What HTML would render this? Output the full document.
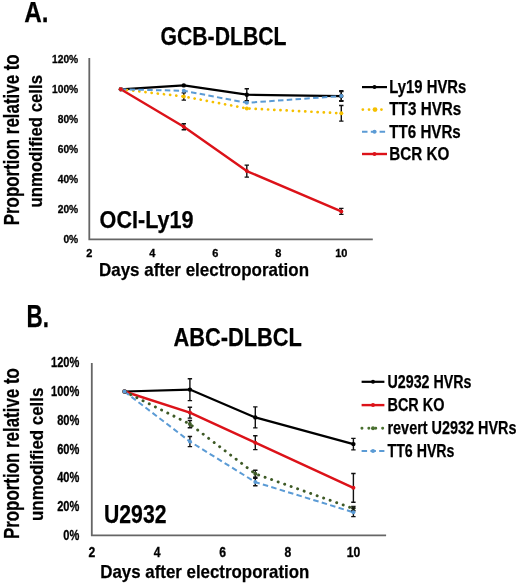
<!DOCTYPE html>
<html><head><meta charset="utf-8"><style>
html,body{margin:0;padding:0;background:#fff;}
svg{display:block;will-change:transform;}
text{font-family:"Liberation Sans",sans-serif;font-weight:bold;fill:#000;stroke:#000;stroke-width:0.25px;}
.tk{stroke:#000;stroke-width:0.3px;}
</style></head><body>
<svg width="520" height="585" viewBox="0 0 520 585">
<text x="24.2" y="22.1" font-size="30" textLength="24.3" lengthAdjust="spacingAndGlyphs">A.</text>
<text x="223.5" y="44.7" font-size="25" text-anchor="middle" textLength="126" lengthAdjust="spacingAndGlyphs">GCB-DLBCL</text>
<path d="M89.3 58 V239.3 H372.8" fill="none" stroke="#666" stroke-width="1.8"/>
<text x="78.2" y="242.70000000000002" font-size="11" text-anchor="end" textLength="14.79" lengthAdjust="spacingAndGlyphs" class="tk">0%</text>
<text x="78.2" y="212.70000000000002" font-size="11" text-anchor="end" textLength="20.47" lengthAdjust="spacingAndGlyphs" class="tk">20%</text>
<text x="78.2" y="182.70000000000002" font-size="11" text-anchor="end" textLength="20.47" lengthAdjust="spacingAndGlyphs" class="tk">40%</text>
<text x="78.2" y="152.70000000000002" font-size="11" text-anchor="end" textLength="20.47" lengthAdjust="spacingAndGlyphs" class="tk">60%</text>
<text x="78.2" y="122.70000000000002" font-size="11" text-anchor="end" textLength="20.47" lengthAdjust="spacingAndGlyphs" class="tk">80%</text>
<text x="78.2" y="92.70000000000002" font-size="11" text-anchor="end" textLength="26.16" lengthAdjust="spacingAndGlyphs" class="tk">100%</text>
<text x="78.2" y="62.70000000000001" font-size="11" text-anchor="end" textLength="26.16" lengthAdjust="spacingAndGlyphs" class="tk">120%</text>
<text x="89.3" y="257.3" font-size="11" text-anchor="middle" textLength="6.12" lengthAdjust="spacingAndGlyphs" class="tk">2</text>
<text x="152.3" y="257.3" font-size="11" text-anchor="middle" textLength="6.12" lengthAdjust="spacingAndGlyphs" class="tk">4</text>
<text x="215.3" y="257.3" font-size="11" text-anchor="middle" textLength="6.12" lengthAdjust="spacingAndGlyphs" class="tk">6</text>
<text x="278.3" y="257.3" font-size="11" text-anchor="middle" textLength="6.12" lengthAdjust="spacingAndGlyphs" class="tk">8</text>
<text x="341.3" y="257.3" font-size="11" text-anchor="middle" textLength="12.23" lengthAdjust="spacingAndGlyphs" class="tk">10</text>
<path d="M120.8 89.3 L183.8 85.4 L246.8 94.7 L341.3 96.1" fill="none" stroke="#000" stroke-width="2.2"  stroke-linejoin="round"/>
<path d="M120.8 89.3 L183.8 96.5 L246.8 108.4 L341.3 113.3" fill="none" stroke="#f5c000" stroke-width="2.7" stroke-dasharray="0.1 6.1" stroke-linecap="round" stroke-linejoin="round"/>
<path d="M120.8 89.3 L183.8 90.8 L246.8 102.8 L341.3 96.1" fill="none" stroke="#5b9bd5" stroke-width="2.0" stroke-dasharray="5.5 3.3" stroke-linejoin="round"/>
<path d="M120.8 89.3 L183.8 126.8 L246.8 171.1 L341.3 211.4" fill="none" stroke="#dc1219" stroke-width="2.4"  stroke-linejoin="round"/>
<path d="M246.8 88.7 V100.7 M244.6 88.7 H249.0 M244.6 100.7 H249.0" stroke="#111" stroke-width="1.4" fill="none"/>
<path d="M341.3 90.8 V101.3 M339.1 90.8 H343.5 M339.1 101.3 H343.5" stroke="#111" stroke-width="1.4" fill="none"/>
<circle cx="120.8" cy="89.3" r="2.2" fill="#000"/>
<circle cx="183.8" cy="85.4" r="2.2" fill="#000"/>
<circle cx="246.8" cy="94.7" r="2.2" fill="#000"/>
<circle cx="341.3" cy="96.1" r="2.2" fill="#000"/>
<path d="M183.8 92.9 V100.1 M181.6 92.9 H186.0 M181.6 100.1 H186.0" stroke="#111" stroke-width="1.4" fill="none"/>
<path d="M341.3 105.5 V121.1 M339.1 105.5 H343.5 M339.1 121.1 H343.5" stroke="#111" stroke-width="1.4" fill="none"/>
<circle cx="120.8" cy="89.3" r="2.0" fill="#f5c000"/>
<circle cx="183.8" cy="96.5" r="2.0" fill="#f5c000"/>
<circle cx="246.8" cy="108.4" r="2.0" fill="#f5c000"/>
<circle cx="341.3" cy="113.3" r="2.0" fill="#f5c000"/>
<path d="M341.3 91.6 V100.6 M339.1 91.6 H343.5 M339.1 100.6 H343.5" stroke="#111" stroke-width="1.4" fill="none"/>
<circle cx="120.8" cy="89.3" r="2.0" fill="#5b9bd5"/>
<circle cx="183.8" cy="90.8" r="2.0" fill="#5b9bd5"/>
<circle cx="246.8" cy="102.8" r="2.0" fill="#5b9bd5"/>
<circle cx="341.3" cy="96.1" r="2.0" fill="#5b9bd5"/>
<path d="M183.8 123.8 V129.8 M181.6 123.8 H186.0 M181.6 129.8 H186.0" stroke="#111" stroke-width="1.4" fill="none"/>
<path d="M246.8 165.1 V177.1 M244.6 165.1 H249.0 M244.6 177.1 H249.0" stroke="#111" stroke-width="1.4" fill="none"/>
<path d="M341.3 208.4 V214.4 M339.1 208.4 H343.5 M339.1 214.4 H343.5" stroke="#111" stroke-width="1.4" fill="none"/>
<circle cx="120.8" cy="89.3" r="2.0" fill="#dc1219"/>
<circle cx="183.8" cy="126.8" r="2.0" fill="#dc1219"/>
<circle cx="246.8" cy="171.1" r="2.0" fill="#dc1219"/>
<circle cx="341.3" cy="211.4" r="2.0" fill="#dc1219"/>
<line x1="362" y1="87.1" x2="387" y2="87.1" stroke="#000" stroke-width="2.2" />
<circle cx="374.5" cy="87.1" r="2.0" fill="#000"/>
<text x="389.3" y="92.89999999999999" font-size="18" textLength="77" lengthAdjust="spacingAndGlyphs">Ly19 HVRs</text>
<line x1="362.8" y1="109.6" x2="382" y2="109.6" stroke="#f5c000" stroke-width="2.7" stroke-dasharray="0.1 6.1" stroke-linecap="round"/>
<circle cx="375.0" cy="109.6" r="2.4" fill="#f5c000"/>
<text x="389.3" y="115.39999999999999" font-size="18" textLength="72" lengthAdjust="spacingAndGlyphs">TT3 HVRs</text>
<line x1="362" y1="131.7" x2="387" y2="131.7" stroke="#5b9bd5" stroke-width="2.0" stroke-dasharray="5.5 3.3"/>
<circle cx="374.5" cy="131.7" r="2.0" fill="#5b9bd5"/>
<text x="389.3" y="137.5" font-size="18" textLength="71.5" lengthAdjust="spacingAndGlyphs">TT6 HVRs</text>
<line x1="362" y1="154" x2="387" y2="154" stroke="#dc1219" stroke-width="2.4" />
<circle cx="374.5" cy="154" r="2.0" fill="#dc1219"/>
<text x="389.3" y="159.8" font-size="18" textLength="60" lengthAdjust="spacingAndGlyphs">BCR KO</text>
<text x="99.6" y="227.7" font-size="24" textLength="94" lengthAdjust="spacingAndGlyphs">OCI-Ly19</text>
<text x="99.0" y="275.6" font-size="19" textLength="210" lengthAdjust="spacingAndGlyphs">Days after electroporation</text>
<g transform="translate(18.9 139.8) rotate(-90)"><text x="0" y="0" font-size="21.5" text-anchor="middle" textLength="171" lengthAdjust="spacingAndGlyphs">Proportion relative to</text></g>
<g transform="translate(42.2 141.2) rotate(-90)"><text x="0" y="0" font-size="19" text-anchor="middle" textLength="132.4" lengthAdjust="spacingAndGlyphs">unmodified cells</text></g>
<text x="26.6" y="326.9" font-size="30.5" textLength="22.5" lengthAdjust="spacingAndGlyphs">B.</text>
<text x="237.7" y="346.2" font-size="25" text-anchor="middle" textLength="128.5" lengthAdjust="spacingAndGlyphs">ABC-DLBCL</text>
<path d="M91.8 363 V535.3 H386.1" fill="none" stroke="#666" stroke-width="1.8"/>
<text x="79.3" y="539.9" font-size="14" text-anchor="end" textLength="15.99" lengthAdjust="spacingAndGlyphs" class="tk">0%</text>
<text x="79.3" y="511.14" font-size="14" text-anchor="end" textLength="22.14" lengthAdjust="spacingAndGlyphs" class="tk">20%</text>
<text x="79.3" y="482.38" font-size="14" text-anchor="end" textLength="22.14" lengthAdjust="spacingAndGlyphs" class="tk">40%</text>
<text x="79.3" y="453.62" font-size="14" text-anchor="end" textLength="22.14" lengthAdjust="spacingAndGlyphs" class="tk">60%</text>
<text x="79.3" y="424.86" font-size="14" text-anchor="end" textLength="22.14" lengthAdjust="spacingAndGlyphs" class="tk">80%</text>
<text x="79.3" y="396.1" font-size="14" text-anchor="end" textLength="28.29" lengthAdjust="spacingAndGlyphs" class="tk">100%</text>
<text x="79.3" y="367.34" font-size="14" text-anchor="end" textLength="28.29" lengthAdjust="spacingAndGlyphs" class="tk">120%</text>
<text x="91.8" y="557" font-size="14" text-anchor="middle" textLength="6.77" lengthAdjust="spacingAndGlyphs" class="tk">2</text>
<text x="157.2" y="557" font-size="14" text-anchor="middle" textLength="6.77" lengthAdjust="spacingAndGlyphs" class="tk">4</text>
<text x="222.60000000000002" y="557" font-size="14" text-anchor="middle" textLength="6.77" lengthAdjust="spacingAndGlyphs" class="tk">6</text>
<text x="288.0" y="557" font-size="14" text-anchor="middle" textLength="6.77" lengthAdjust="spacingAndGlyphs" class="tk">8</text>
<text x="353.40000000000003" y="557" font-size="14" text-anchor="middle" textLength="13.55" lengthAdjust="spacingAndGlyphs" class="tk">10</text>
<path d="M124.5 391.5 L189.9 389.6 L255.3 417.4 L353.4 444.1" fill="none" stroke="#000" stroke-width="2.2"  stroke-linejoin="round"/>
<path d="M124.5 391.5 L189.9 412.6 L255.3 442.7 L353.4 487.8" fill="none" stroke="#dc1219" stroke-width="2.4"  stroke-linejoin="round"/>
<path d="M124.5 391.5 L189.9 424.1 L255.3 473.8 L353.4 508.6" fill="none" stroke="#3e5a26" stroke-width="2.9" stroke-dasharray="0.1 6.8" stroke-linecap="round" stroke-linejoin="round"/>
<path d="M124.5 391.5 L189.9 441.5 L255.3 482.1 L353.4 512.3" fill="none" stroke="#5b9bd5" stroke-width="2.0" stroke-dasharray="5.5 3.3" stroke-linejoin="round"/>
<path d="M189.9 378.7 V400.6 M187.7 378.7 H192.1 M187.7 400.6 H192.1" stroke="#111" stroke-width="1.4" fill="none"/>
<path d="M255.3 406.9 V427.9 M253.1 406.9 H257.5 M253.1 427.9 H257.5" stroke="#111" stroke-width="1.4" fill="none"/>
<path d="M353.4 438.4 V449.9 M351.2 438.4 H355.6 M351.2 449.9 H355.6" stroke="#111" stroke-width="1.4" fill="none"/>
<circle cx="124.5" cy="391.5" r="2.2" fill="#000"/>
<circle cx="189.9" cy="389.6" r="2.2" fill="#000"/>
<circle cx="255.3" cy="417.4" r="2.2" fill="#000"/>
<circle cx="353.4" cy="444.1" r="2.2" fill="#000"/>
<path d="M189.9 407.2 V418.1 M187.7 407.2 H192.1 M187.7 418.1 H192.1" stroke="#111" stroke-width="1.4" fill="none"/>
<path d="M255.3 435.8 V449.6 M253.1 435.8 H257.5 M253.1 449.6 H257.5" stroke="#111" stroke-width="1.4" fill="none"/>
<path d="M353.4 473.5 V502.2 M351.2 473.5 H355.6 M351.2 502.2 H355.6" stroke="#111" stroke-width="1.4" fill="none"/>
<circle cx="124.5" cy="391.5" r="2.0" fill="#dc1219"/>
<circle cx="189.9" cy="412.6" r="2.0" fill="#dc1219"/>
<circle cx="255.3" cy="442.7" r="2.0" fill="#dc1219"/>
<circle cx="353.4" cy="487.8" r="2.0" fill="#dc1219"/>
<path d="M189.9 420.5 V427.7 M187.7 420.5 H192.1 M187.7 427.7 H192.1" stroke="#111" stroke-width="1.4" fill="none"/>
<path d="M255.3 470.3 V477.2 M253.1 470.3 H257.5 M253.1 477.2 H257.5" stroke="#111" stroke-width="1.4" fill="none"/>
<path d="M353.4 506.4 V510.7 M351.2 506.4 H355.6 M351.2 510.7 H355.6" stroke="#111" stroke-width="1.4" fill="none"/>
<circle cx="124.5" cy="391.5" r="2.0" fill="#3e5a26"/>
<circle cx="189.9" cy="424.1" r="2.0" fill="#3e5a26"/>
<circle cx="255.3" cy="473.8" r="2.0" fill="#3e5a26"/>
<circle cx="353.4" cy="508.6" r="2.0" fill="#3e5a26"/>
<path d="M189.9 436.5 V446.6 M187.7 436.5 H192.1 M187.7 446.6 H192.1" stroke="#111" stroke-width="1.4" fill="none"/>
<path d="M255.3 478.4 V485.8 M253.1 478.4 H257.5 M253.1 485.8 H257.5" stroke="#111" stroke-width="1.4" fill="none"/>
<path d="M353.4 508.0 V516.6 M351.2 508.0 H355.6 M351.2 516.6 H355.6" stroke="#111" stroke-width="1.4" fill="none"/>
<circle cx="124.5" cy="391.5" r="2.0" fill="#5b9bd5"/>
<circle cx="189.9" cy="441.5" r="2.0" fill="#5b9bd5"/>
<circle cx="255.3" cy="482.1" r="2.0" fill="#5b9bd5"/>
<circle cx="353.4" cy="512.3" r="2.0" fill="#5b9bd5"/>
<line x1="361.6" y1="381.8" x2="384.4" y2="381.8" stroke="#000" stroke-width="2.2" />
<circle cx="373.0" cy="381.8" r="2.0" fill="#000"/>
<text x="387.5" y="387.6" font-size="18" textLength="84" lengthAdjust="spacingAndGlyphs">U2932 HVRs</text>
<line x1="361.6" y1="405.1" x2="384.4" y2="405.1" stroke="#dc1219" stroke-width="2.4" />
<circle cx="373.0" cy="405.1" r="2.0" fill="#dc1219"/>
<text x="387.5" y="410.90000000000003" font-size="18" textLength="57" lengthAdjust="spacingAndGlyphs">BCR KO</text>
<line x1="361.9" y1="428.3" x2="383" y2="428.3" stroke="#4a7030" stroke-width="2.9" stroke-dasharray="0.1 6.8" stroke-linecap="round"/>
<circle cx="373.0" cy="428.3" r="2.0" fill="#4a7030"/>
<text x="387.5" y="434.1" font-size="18" textLength="129" lengthAdjust="spacingAndGlyphs">revert U2932 HVRs</text>
<line x1="361.6" y1="450.9" x2="384.4" y2="450.9" stroke="#5b9bd5" stroke-width="2.0" stroke-dasharray="5.5 3.3"/>
<circle cx="373.0" cy="450.9" r="2.0" fill="#5b9bd5"/>
<text x="387.5" y="456.7" font-size="18" textLength="67" lengthAdjust="spacingAndGlyphs">TT6 HVRs</text>
<text x="104" y="523" font-size="26" textLength="62.5" lengthAdjust="spacingAndGlyphs">U2932</text>
<text x="100.3" y="578" font-size="19" textLength="209" lengthAdjust="spacingAndGlyphs">Days after electroporation</text>
<g transform="translate(19.2 453.6) rotate(-90)"><text x="0" y="0" font-size="21.5" text-anchor="middle" textLength="171" lengthAdjust="spacingAndGlyphs">Proportion relative to</text></g>
<g transform="translate(43 454.3) rotate(-90)"><text x="0" y="0" font-size="19" text-anchor="middle" textLength="133.4" lengthAdjust="spacingAndGlyphs">unmodified cells</text></g>
</svg>
</body></html>
